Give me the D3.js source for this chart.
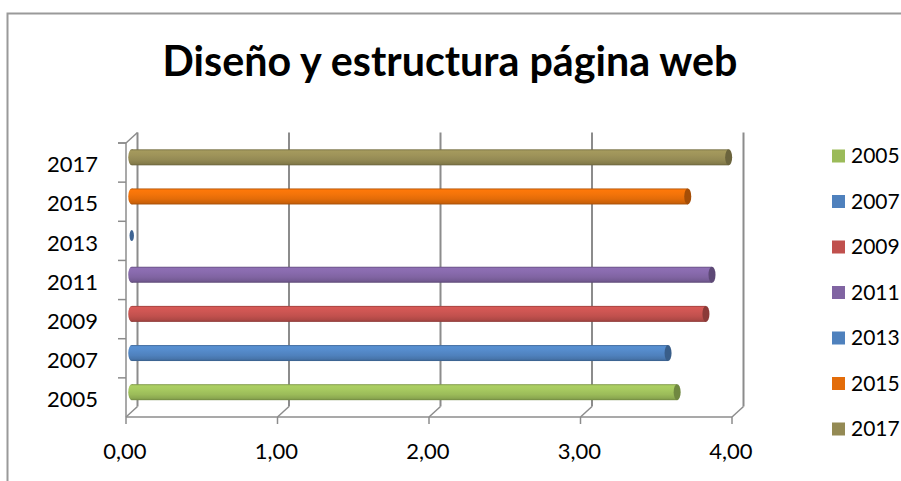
<!DOCTYPE html>
<html>
<head>
<meta charset="utf-8">
<script src="https://cdn.jsdelivr.net/npm/d3@7"></script>
<style>
  html, body { margin: 0; padding: 0; background: #fff; }
  svg { display: block; }
</style>
</head>
<body>
<svg id="chart" width="901" height="481"></svg>
<script>
// Chart data
const categories = ["2005", "2007", "2009", "2011", "2013", "2015", "2017"];
const values = [3.60, 3.54, 3.79, 3.83, 0, 3.67, 3.94];
const colors = ["#9BBB59", "#4F81BD", "#C0504D", "#8064A2", "#4F81BD", "#E36C09", "#948A54"];
const xTicks = [0, 1, 2, 3, 4];
const title = "Diseño y estructura página web";

const svg = d3.select("#chart");
const font = "Lato, 'Open Sans', sans-serif";

// Outer frame
svg.append("path")
  .attr("d", "M7.5,481 L7.5,13.5 L901,13.5")
  .attr("fill", "none").attr("stroke", "#9a9a9a").attr("stroke-width", 2);

// Title, sized to its span
const t = svg.append("text")
  .attr("x", 450).attr("y", 76)
  .attr("text-anchor", "middle")
  .attr("font-family", font).attr("font-weight", 700)
  .attr("font-size", 36).attr("fill", "#000")
  .text(title);
const tw = t.node().getComputedTextLength();
t.attr("font-size", 36 * 575 / tw);

// Plot geometry: front plane and depth offset
const x = d3.scaleLinear().domain([0, 4]).range([126, 732]);
const y = d3.scaleBand().domain(categories).range([417, 143]);
const dx = 11.5, dy = -10.5;
const plotTop = 143, plotBottom = 417;
const axisColor = "#8c8c8c";

const g = svg.append("g");

// Back-wall gridlines
g.selectAll(".grid").data(xTicks).join("line")
  .attr("x1", d => x(d) + dx).attr("x2", d => x(d) + dx)
  .attr("y1", plotTop + dy).attr("y2", plotBottom + dy)
  .attr("stroke", axisColor).attr("stroke-width", 2);

// Floor depth lines
g.selectAll(".floor").data(xTicks).join("line")
  .attr("x1", d => x(d)).attr("x2", d => x(d) + dx)
  .attr("y1", plotBottom).attr("y2", plotBottom + dy)
  .attr("stroke", axisColor).attr("stroke-width", 1.5);

// Front value axis with ticks
g.append("line").attr("x1", x(0)).attr("x2", x(4)).attr("y1", plotBottom).attr("y2", plotBottom)
  .attr("stroke", axisColor).attr("stroke-width", 1.5);
g.selectAll(".xt").data(xTicks).join("line")
  .attr("x1", d => x(d)).attr("x2", d => x(d))
  .attr("y1", plotBottom).attr("y2", plotBottom + 7)
  .attr("stroke", axisColor).attr("stroke-width", 1.5);

// Category axis with ticks on band edges
g.append("line").attr("x1", x(0)).attr("x2", x(0)).attr("y1", plotTop).attr("y2", plotBottom)
  .attr("stroke", axisColor).attr("stroke-width", 1.5);
g.append("line").attr("x1", x(0)).attr("x2", x(0) + dx).attr("y1", plotTop).attr("y2", plotTop + dy)
  .attr("stroke", axisColor).attr("stroke-width", 1.5);
const edges = categories.map(c => y(c)).concat([plotTop]);
g.selectAll(".yt").data(edges).join("line")
  .attr("x1", x(0) - 8).attr("x2", x(0))
  .attr("y1", d => d).attr("y2", d => d)
  .attr("stroke", axisColor).attr("stroke-width", 1.5);

// Gradients for cylinders
const defs = svg.append("defs");
colors.forEach((c, i) => {
  const base = d3.color(c);
  const gr = defs.append("linearGradient").attr("id", "cyl" + i)
    .attr("x1", 0).attr("y1", 0).attr("x2", 0).attr("y2", 1);
  const stops = [
    [0, base.darker(0.7)],
    [0.1, base.brighter(0.3)],
    [0.35, base.brighter(0.2)],
    [0.65, base],
    [0.88, base.darker(0.3)],
    [1, base.darker(0.9)]
  ];
  stops.forEach(([o, col]) => gr.append("stop").attr("offset", o).attr("stop-color", col.formatHex()));
});

// Cylinders
const h = 16, rx = 3.5;
const bars = g.selectAll(".bar").data(categories.map((c, i) => ({ c, v: values[i], i })))
  .join("g");
bars.each(function (d) {
  const sel = d3.select(this);
  const cy = y(d.c) + y.bandwidth() / 2 + dy / 2;
  const x0 = x(0) + dx / 2, x1 = x(d.v) + dx / 2;
  if (d.v > 0) {
    sel.append("ellipse").attr("cx", x0).attr("cy", cy).attr("rx", rx).attr("ry", h / 2)
      .attr("fill", `url(#cyl${d.i})`);
    sel.append("rect").attr("x", x0).attr("y", cy - h / 2).attr("width", x1 - x0).attr("height", h)
      .attr("fill", `url(#cyl${d.i})`);
    sel.append("ellipse").attr("cx", x1).attr("cy", cy).attr("rx", rx).attr("ry", h / 2)
      .attr("fill", d3.color(colors[d.i]).darker(0.9).formatHex());
  } else {
    sel.append("ellipse").attr("cx", x1).attr("cy", cy).attr("rx", 2.2).attr("ry", 5.5)
      .attr("fill", d3.color(colors[d.i]).darker(0.7).formatHex());
  }
});

// Category labels
g.selectAll(".ylab").data(categories).join("text")
  .attr("x", 98).attr("y", d => y(d) + y.bandwidth() / 2 + 2)
  .attr("dy", "0.35em").attr("text-anchor", "end")
  .attr("font-family", font).attr("font-size", 22).attr("fill", "#000")
  .text(d => d);

// Value labels
const fmt = d3.formatLocale({ decimal: ",", thousands: ".", grouping: [3], currency: ["", "€"] }).format(".2f");
g.selectAll(".xlab").data(xTicks).join("text")
  .attr("x", d => x(d) - 1).attr("y", 459)
  .attr("text-anchor", "middle")
  .attr("font-family", font).attr("font-size", 22).attr("fill", "#000")
  .text(d => fmt(d));

// Legend
const leg = svg.append("g");
categories.forEach((c, i) => {
  const ly = 156 + i * 45.5;
  leg.append("rect").attr("x", 832).attr("y", ly - 6.5).attr("width", 13).attr("height", 13)
    .attr("fill", colors[i]);
  leg.append("text").attr("x", 851).attr("y", ly).attr("dy", "0.35em")
    .attr("font-family", font).attr("font-size", 21).attr("fill", "#000")
    .text(c);
});
</script>
</body>
</html>
